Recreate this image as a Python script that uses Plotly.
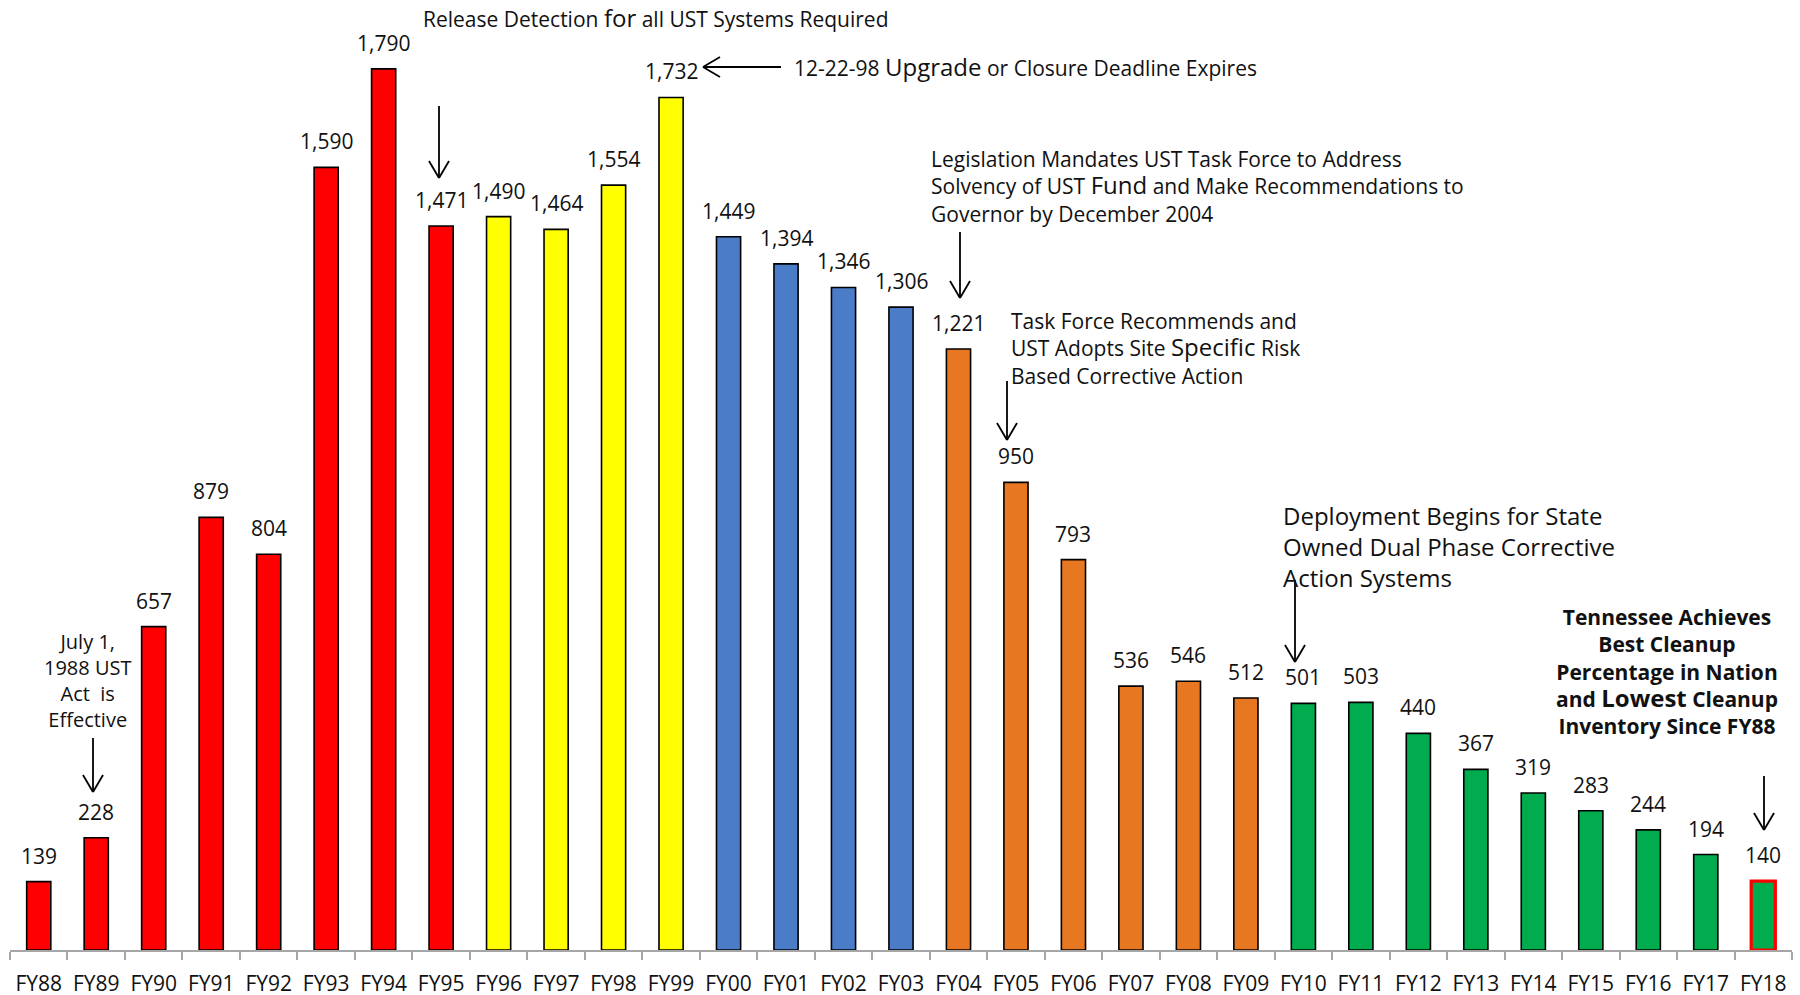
import plotly.graph_objects as go

# ---------------- data ----------------
years = ["FY88", "FY89", "FY90", "FY91", "FY92", "FY93", "FY94", "FY95",
         "FY96", "FY97", "FY98", "FY99",
         "FY00", "FY01", "FY02", "FY03",
         "FY04", "FY05", "FY06", "FY07", "FY08", "FY09",
         "FY10", "FY11", "FY12", "FY13", "FY14", "FY15", "FY16", "FY17", "FY18"]
inventory = [139, 228, 657, 879, 804, 1590, 1790, 1471,
             1490, 1464, 1554, 1732,
             1449, 1394, 1346, 1306,
             1221, 950, 793, 536, 546, 512,
             501, 503, 440, 367, 319, 283, 244, 194, 140]
period = (["red"] * 8 + ["yellow"] * 4 + ["blue"] * 4 + ["orange"] * 6 + ["green"] * 9)

# ---------------- styles ----------------
PALETTE = {"red": "#FF0000", "yellow": "#FFFF00", "blue": "#4A7CC8",
           "orange": "#E87722", "green": "#00AC4E"}
FONT = "Open Sans"
TXT = "#111111"

bar_colors = [PALETTE[p] for p in period]
line_colors = ["#000000"] * len(years)
line_widths = [1.6] * len(years)
line_colors[-1] = "#FF0000"
line_widths[-1] = 3.2

W, H = 1800, 995
PL, PR, PT, PB = 10, 1792, 0, 950


def px(x):
    return (x - PL) / (PR - PL)


def py(y):
    return (PB - y) / (PB - PT)


fig = go.Figure()
fig.add_trace(go.Bar(
    x=years, y=inventory,
    marker=dict(color=bar_colors, line=dict(color=line_colors, width=line_widths)),
    hoverinfo="x+y", showlegend=False,
))

annotations = []
shapes = []
# value labels
for yr, v in zip(years, inventory):
    annotations.append(dict(x=yr, y=v, xref="x", yref="y", text=f"{v:,}",
                            showarrow=False, yanchor="bottom", yshift=10,
                            font=dict(family=FONT, size=21, color=TXT)))


def note(text, x, y, xanchor="left", size=21, align="left", bold=False):
    annotations.append(dict(
        x=px(x), y=py(y), xref="paper", yref="paper", text=text,
        showarrow=False, xanchor=xanchor, yanchor="middle", align=align,
        font=dict(family=FONT, size=size, color=TXT,
                  weight="bold" if bold else "normal")))


def seg(x0, y0, x1, y1):
    shapes.append(dict(type="line", xref="paper", yref="paper",
                       x0=px(x0), y0=py(y0), x1=px(x1), y1=py(y1),
                       line=dict(color="#000000", width=1.8)))


def arrow(x0, y0, x1, y1, hl=17, hw=10):
    # tail (x0, y0) -> head (x1, y1), pixel coordinates, open chevron head
    seg(x0, y0, x1, y1)
    dx, dy = x1 - x0, y1 - y0
    n = (dx * dx + dy * dy) ** 0.5
    ux, uy = dx / n, dy / n
    bx, by = x1 - ux * hl, y1 - uy * hl
    seg(bx - uy * hw, by + ux * hw, x1, y1)
    seg(bx + uy * hw, by - ux * hw, x1, y1)


BIG = "<span style='font-size:24px'>{}</span>"

note("Release Detection " + BIG.format("for") + " all UST Systems Required",
     655, 17, xanchor="center")
arrow(439, 106, 439, 178)

note("12-22-98 " + BIG.format("Upgrade") + " or Closure Deadline Expires",
     792, 67)
arrow(781, 67, 703, 67)

note("Legislation Mandates UST Task Force to Address<br>"
     "Solvency of UST " + BIG.format("Fund") + " and Make Recommendations to<br>"
     "Governor by December 2004", 929, 186)
arrow(960, 232, 960, 298)

note("Task Force Recommends and<br>"
     "UST Adopts Site " + BIG.format("Specific") + " Risk<br>"
     "Based Corrective Action", 1009, 348)
arrow(1007, 381, 1007, 440)

note("Deployment Begins for State<br>Owned Dual Phase Corrective<br>Action Systems",
     1281, 546, size=24)
arrow(1295, 580, 1295, 662)

note("July 1,<br>1988 UST<br>Act  is<br>Effective", 88, 680, xanchor="center",
     align="center", size=20)
arrow(93, 738, 93, 792)

note("Tennessee Achieves<br>Best Cleanup<br>Percentage in Nation<br>"
     "and <span style='font-size:24px'>Lowest</span> Cleanup<br>Inventory Since FY88",
     1667, 671, xanchor="center", align="center", size=21, bold=True)
arrow(1764, 776, 1764, 830)

fig.update_layout(
    width=W, height=H,
    margin=dict(l=PL, r=W - PR, t=PT, b=H - PB, autoexpand=False),
    paper_bgcolor="white", plot_bgcolor="white",
    bargap=0.58,
    font=dict(family=FONT, color=TXT),
    annotations=annotations,
    shapes=shapes,
    xaxis=dict(type="category", showline=True, linecolor="#A6A6A6", linewidth=1.5,
               ticks="outside", tickson="boundaries", ticklen=8, tickwidth=1.5,
               tickcolor="#A6A6A6", showgrid=False, ticklabelstandoff=14,
               tickangle=0, automargin=False,
               tickfont=dict(family=FONT, size=21, color=TXT)),
    yaxis=dict(range=[0, 1930], visible=False, showgrid=False, zeroline=False),
)

fig.write_html("out.html", config={"displayModeBar": False},
               post_script="document.body.style.margin='0';document.body.style.overflow='hidden';")
